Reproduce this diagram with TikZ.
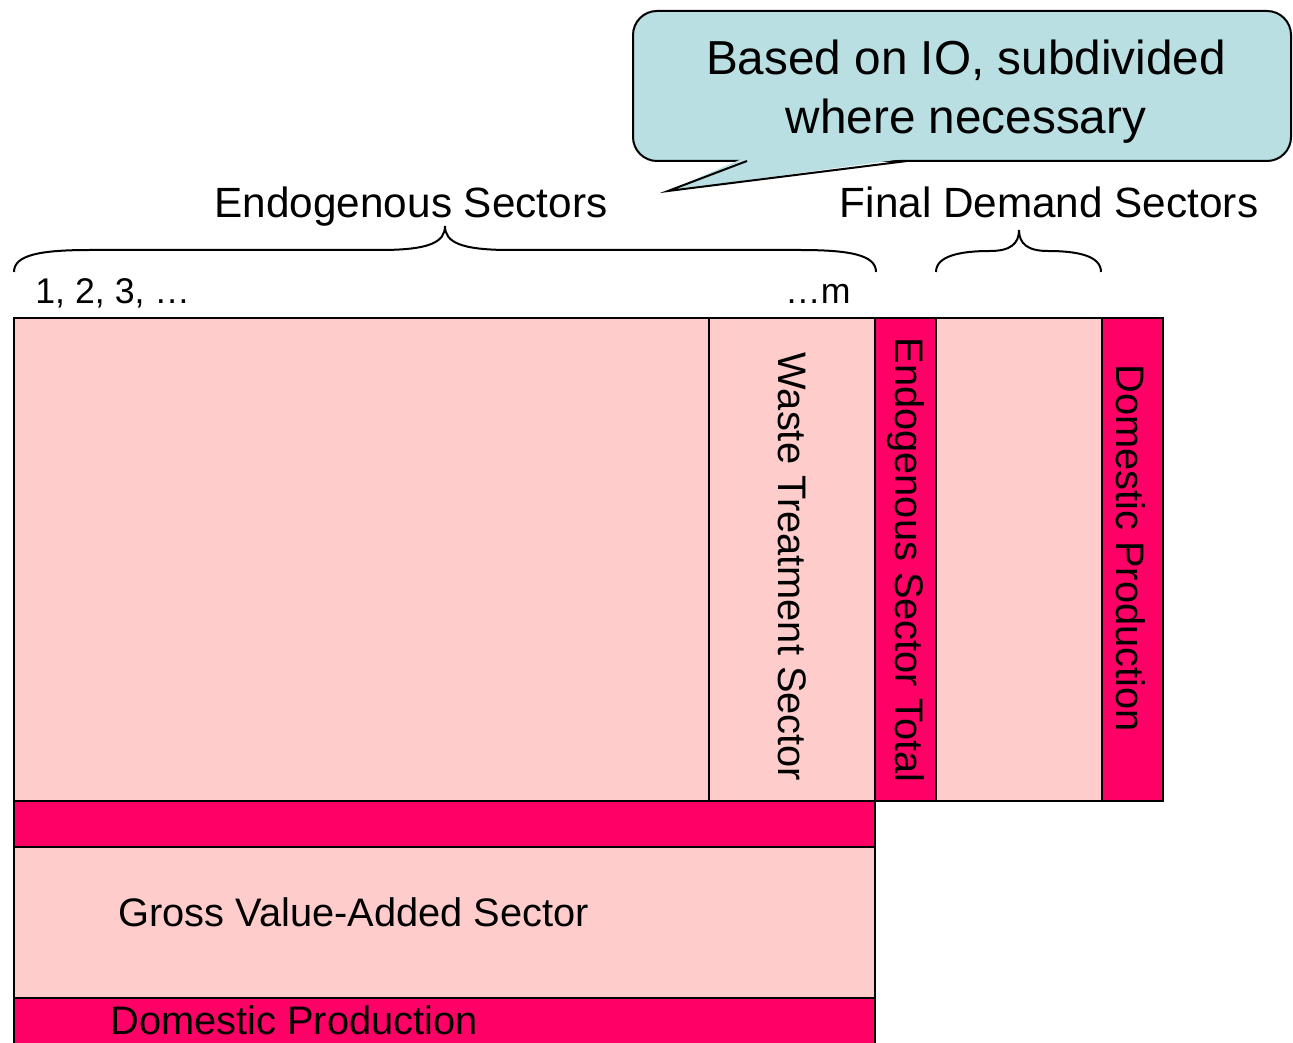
\documentclass[tikz,border=0pt]{standalone}
\usepackage{fontspec}
\setmainfont{Liberation Sans}
\definecolor{lightpink}{HTML}{FFCCCC}
\definecolor{deeppink}{HTML}{FF0066}
\definecolor{bubblefill}{HTML}{B9DFE3}
\begin{document}
\begin{tikzpicture}[x=0.5pt,y=-0.5pt,
  cell/.style={draw=black,line width=1pt},
  lightcell/.style={cell,fill=lightpink},
  darkcell/.style={cell,fill=deeppink},
  lbl/.style={font=\fontsize{19.9pt}{23pt}\selectfont,inner sep=0pt},
  biglbl/.style={font=\fontsize{21.15pt}{25pt}\selectfont,inner sep=0pt},
  smalllbl/.style={font=\fontsize{17.85pt}{21pt}\selectfont,inner sep=0pt},
  bubbletxt/.style={font=\fontsize{23.85pt}{28pt}\selectfont,inner sep=0pt},
  bracepath/.style={draw=black,line width=1pt},
  bubble/.style={draw=black,line width=1pt,fill=bubblefill}]
\useasboundingbox (0,0) rectangle (1293,1042);
\clip (0,0) rectangle (1293,1042);

% callout
\draw[bubble,rounded corners=12pt] (633,11) rectangle (1291,161);
\coordinate (tl) at (747,161);
\coordinate (tip) at (668,191);
\coordinate (tr) at (907,161);
\fill[bubblefill] (744,158) -- (tip) -- (910,158) -- cycle;
\draw[line width=1pt,line join=miter] (tl) -- (tip) -- (tr);
\node[bubbletxt,anchor=base] (c1) at (966,75) {Based on IO, subdivided};
\node[bubbletxt,anchor=base] (c2) at (966,134) {where necessary};

% headings
\node[biglbl,anchor=base] (endo) at (411,218) {Endogenous Sectors};
\node[biglbl,anchor=base] (fd) at (1049,218) {Final Demand Sectors};
\node[smalllbl,anchor=base west] (one) at (35,304) {1, 2, 3, …};
\node[smalllbl,anchor=base east] (mm) at (851,304) {…m};

% braces
\coordinate (b1l) at (14,272);
\coordinate (b1t) at (445,226);
\coordinate (b1r) at (876,272);
\draw[bracepath] (b1l) .. controls (14,255) and (40,250) .. (90,250) -- (380,250)
  .. controls (430,250) and (445,242) .. (b1t)
  .. controls (445,242) and (460,250) .. (510,250) -- (800,250)
  .. controls (850,250) and (876,255) .. (b1r);
\coordinate (b2l) at (936,272);
\coordinate (b2t) at (1019,230);
\coordinate (b2r) at (1101,272);
\draw[bracepath] (b2l) .. controls (936,256) and (960,251) .. (990,251)
  .. controls (1010,251) and (1019,244) .. (b2t)
  .. controls (1019,244) and (1028,251) .. (1048,251)
  .. controls (1078,251) and (1101,256) .. (b2r);

% table cells
\draw[lightcell] (14,318) rectangle (875,801);
\draw[cell] (709,318) -- (709,801);
\draw[darkcell] (875,318) rectangle (936,801);
\draw[lightcell] (936,318) rectangle (1102,801);
\draw[darkcell] (1102,318) rectangle (1163,801);
\draw[darkcell] (14,801) rectangle (875,847);
\draw[lightcell] (14,847) rectangle (875,998);
\draw[darkcell] (14,998) rectangle (875,1070);

% cell labels
\node[lbl,rotate=-90] (waste) at (792,567) {Waste Treatment Sector};
\node[lbl,rotate=-90] (endtot) at (906,560) {Endogenous Sector Total};
\node[lbl,rotate=-90] (domcol) at (1131,548) {Domestic Production};
\node[lbl,anchor=base west] (gva) at (118,926) {Gross Value-Added Sector};
\node[lbl,anchor=base west] (domrow) at (110,1034) {Domestic Production};
\end{tikzpicture}
\end{document}
